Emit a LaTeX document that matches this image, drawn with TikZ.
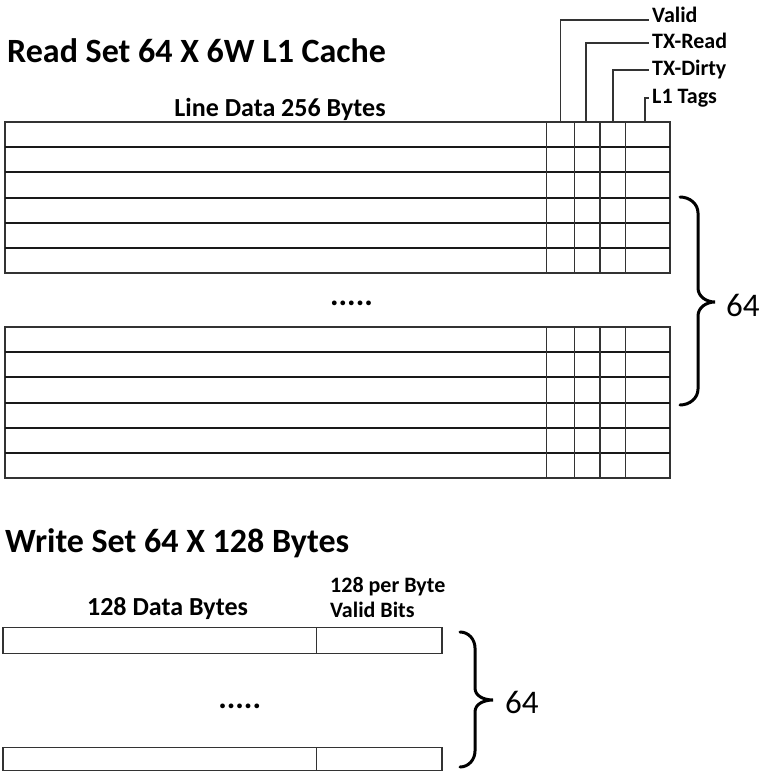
\documentclass[tikz,border=0pt]{standalone}
\usepackage{fontspec}
\setmainfont{Carlito}
\usetikzlibrary{positioning}
\begin{document}
\begin{tikzpicture}[x=1pt,y=-1pt,
  cell/.style={draw=black!80,line width=1.4pt},
  rowline/.style={draw=black!90,line width=2pt},
  leader/.style={draw=black!80,line width=1.2pt},
  bigbrace/.style={draw=black,line width=3pt,line cap=round},
  title/.style={font=\bfseries\fontsize{34}{37}\selectfont,anchor=base west,inner sep=0pt},
  head/.style={font=\bfseries\fontsize{26}{28}\selectfont,anchor=base,inner sep=0pt},
  sub/.style={font=\bfseries\fontsize{22}{24}\selectfont,anchor=base west,inner sep=0pt},
  tag/.style={font=\bfseries\fontsize{22}{24}\selectfont,anchor=base west,inner sep=0pt},
  count/.style={font=\fontsize{33}{36}\selectfont,anchor=base west,inner sep=0pt},
  dots/.style={font=\bfseries\fontsize{32}{32}\selectfont,anchor=base,inner sep=0pt}]
\useasboundingbox (0,0) rectangle (763,773);

% read set
\node[title] (readtitle) at (7,63) {Read Set 64 X 6W L1 Cache};
\node[head] (linedata) at (280,117) {Line Data 256 Bytes};

\foreach \ytop in {122,327}{
  \draw[cell] (5,\ytop) rectangle (670,\ytop+151);
  \foreach \i in {1,...,5}
    \draw[rowline] (5,\ytop+\i*25.2) -- (670,\ytop+\i*25.2);
  \foreach \x in {546.7,574.3,600,625.3}
    \draw[cell] (\x,\ytop) -- (\x,\ytop+151);
}
\node[dots] (gap1) at (351.5,305) {.....};

% field labels
\node[tag] (valid) at (652,23) {Valid};
\node[tag] (txread) at (652,49) {TX-Read};
\node[tag] (txdirty) at (652,76) {TX-Dirty};
\node[tag] (tags) at (652,103) {L1 Tags};
\coordinate (validtop) at (560.5,122);
\coordinate (readtop) at (586,122);
\coordinate (dirtytop) at (613,122);
\coordinate (tagtop) at (645,122);
\draw[leader] (validtop) |- ([xshift=-3pt,yshift=3pt]valid.base west);
\draw[leader] (readtop) |- ([xshift=-3pt,yshift=6pt]txread.base west);
\draw[leader] (dirtytop) |- ([xshift=-3pt,yshift=6pt]txdirty.base west);
\draw[leader] (tagtop) |- ([xshift=-3pt,yshift=5pt]tags.base west);

\coordinate (tip1) at (715,302);
\draw[bigbrace] (680,197) to[out=0,in=90] (698,213) -- (698,288)
  to[out=-90,in=180] (tip1) to[out=180,in=90] (698,316) -- (698,389)
  to[out=-90,in=0] (680,405);
\node[count] (rows1) at (726,316) {64};

% write set
\node[title] (writetitle) at (5,552) {Write Set 64 X 128 Bytes};
\node[head] (databytes) at (167.5,615) {128 Data Bytes};
\node[sub] (perbyte) at (330,592) {128 per Byte};
\node[sub] (validbits) at (330,617) {Valid Bits};

\draw[cell] (3,627.3) rectangle (442,653.3);
\draw[cell] (316.7,627.3) -- (316.7,653.3);
\node[dots] (gap2) at (239.7,708) {.....};
\draw[cell] (3,747.3) rectangle (442,770.7);
\draw[cell] (316.7,747.3) -- (316.7,770.7);

\coordinate (tip2) at (493,700);
\draw[bigbrace] (460,632) to[out=0,in=90] (475,648) -- (475,688)
  to[out=-90,in=180] (tip2) to[out=180,in=90] (475,712) -- (475,751)
  to[out=-90,in=0] (460,767);
\node[count] (rows2) at (505,713) {64};
\end{tikzpicture}
\end{document}
